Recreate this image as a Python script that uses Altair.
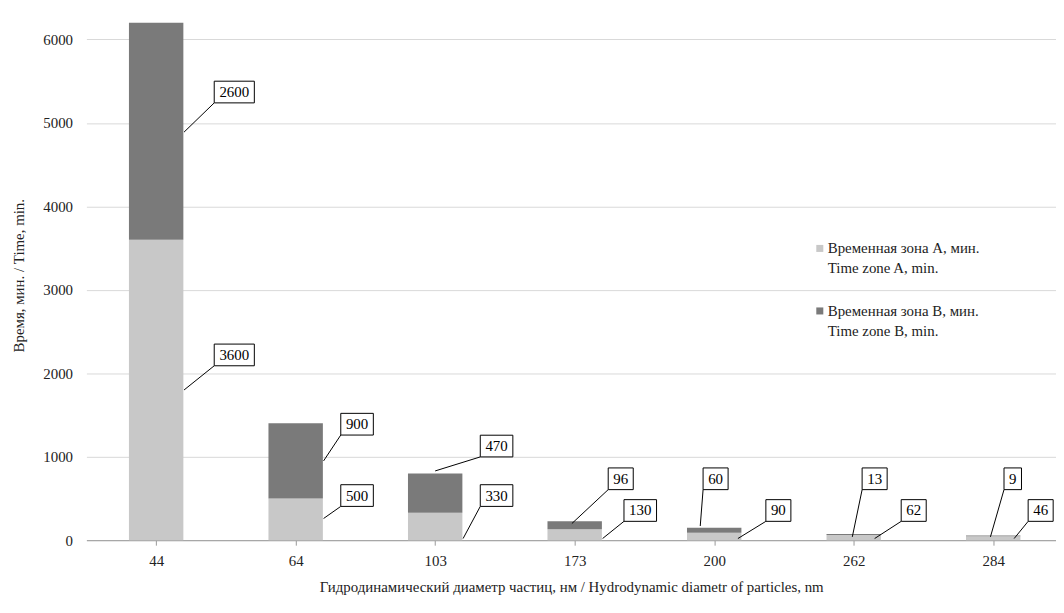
import altair as alt
import pandas as pd

# Данные
diam = ["44", "64", "103", "173", "200", "262", "284"]
zone_a = [3600, 500, 330, 130, 90, 62, 46]
zone_b = [2600, 900, 470, 96, 60, 13, 9]

# выноски: (текст, якорь x, якорь y, бокс x, бокс y)
lab_text = ["2600", "3600", "900", "500", "470", "330", "96", "130", "60", "90", "13", "62", "9", "46"]
anc_x = [0.2, 0.2, 1.2, 1.2, 2.0, 2.2, 2.98, 3.2, 3.9, 4.17, 4.99, 5.15, 5.98, 6.15]
anc_y = [4890, 1800, 950, 260, 830, 20, 200, 20, 170, 20, 40, 20, 40, 20]
box_x = [0.56, 0.56, 1.44, 1.44, 2.44, 2.44, 3.33, 3.47, 4.01, 4.46, 5.15, 5.43, 6.14, 6.34]
box_y = [5370, 2220, 1390, 535, 1128, 535, 736, 356, 736, 356, 736, 356, 736, 356]

bars = pd.DataFrame({
    "i": list(range(7)) * 2,
    "zone": ["A"] * 7 + ["B"] * 7,
    "lo": zone_a + zone_a,
    "hi": zone_a + [a + b for a, b in zip(zone_a, zone_b)],
})
bars.loc[bars.zone == "A", "lo"] = 0
bars["x1"] = bars["i"] - 0.195
bars["x2"] = bars["i"] + 0.195

labs = pd.DataFrame({"t": lab_text, "ax": anc_x, "ay": anc_y, "bx": box_x, "by": box_y})
hw = labs["t"].str.len() * 3.8 + 5
labs["bx1"] = labs["bx"] - hw / 140.5
labs["bx2"] = labs["bx"] + hw / 140.5
labs["by1"] = labs["by"] - 130
labs["by2"] = labs["by"] + 130

font = "Liberation Serif"
xs = alt.Scale(domain=[-0.5, 6.45], nice=False, zero=False)
ys = alt.Scale(domain=[0, 6350], nice=False)
lblexpr = "[" + ",".join("'%s'" % d for d in diam) + "][datum.value]"

bar = alt.Chart(bars).mark_rect().encode(
    x=alt.X("x1:Q", scale=xs, axis=alt.Axis(values=list(range(7)), labelExpr=lblexpr, grid=False,
            title="Гидродинамический диаметр частиц, нм / Hydrodynamic diametr of particles, nm",
            domainColor="#999", tickColor="#999", labelFontSize=15, titleFontSize=15,
            labelFont=font, titleFont=font,
            titleFontWeight="normal", labelColor="#222", titleColor="#222", labelPadding=8,
            titlePadding=12)),
    x2="x2:Q",
    y=alt.Y("lo:Q", scale=ys, axis=alt.Axis(values=[0, 1000, 2000, 3000, 4000, 5000, 6000],
            format="d", title="Время, мин. / Time, min.", gridColor="#d9d9d9", domain=False, ticks=False,
            labelFontSize=15, titleFontSize=15, titleFontWeight="normal",
            labelFont=font, titleFont=font,
            labelColor="#222", titleColor="#222", labelPadding=14, titlePadding=16)),
    y2="hi:Q",
    color=alt.Color("zone:N", scale=alt.Scale(domain=["A", "B"], range=["#c8c8c8", "#7a7a7a"]), legend=None),
)

lines = alt.Chart(labs).mark_rule(color="#000", strokeWidth=1).encode(
    x=alt.X("ax:Q", scale=xs), y=alt.Y("ay:Q", scale=ys), x2="bx1:Q", y2="by1:Q")
boxes = alt.Chart(labs).mark_rect(fill="white", stroke="black", strokeWidth=1).encode(
    x=alt.X("bx1:Q", scale=xs), x2="bx2:Q", y=alt.Y("by1:Q", scale=ys), y2="by2:Q")
texts = alt.Chart(labs).mark_text(font=font, fontSize=15, color="#000").encode(
    x=alt.X("bx:Q", scale=xs), y=alt.Y("by:Q", scale=ys), text="t:N")

leg = pd.DataFrame({
    "c": ["#c8c8c8", "#7a7a7a"],
    "y": [240, 303],
    "l1": ["Временная зона A, мин.", "Временная зона B, мин."],
    "l2": ["Time zone A, min.", "Time zone B, min."],
})
leg_sq = alt.Chart(leg).mark_square(size=50, opacity=1).encode(
    x=alt.value(739), y=alt.Y("y:Q", scale=None), color=alt.Color("c:N", scale=None))
leg_t1 = alt.Chart(leg).mark_text(font=font, fontSize=15, align="left", color="#222").encode(
    x=alt.value(747), y=alt.Y("y:Q", scale=None), text="l1:N")
leg_t2 = alt.Chart(leg).transform_calculate(y2="datum.y + 20").mark_text(
    font=font, fontSize=15, align="left", color="#222").encode(
    x=alt.value(747), y=alt.Y("y2:Q", scale=None), text="l2:N")

chart = alt.layer(bar, lines, boxes, texts, leg_sq, leg_t1, leg_t2).properties(
    width=977, height=534, autosize="none",
    padding={"left": 79, "top": 0, "right": 0, "bottom": 60},
).configure_view(stroke=None)

chart.save("out.html", embed_options={"renderer": "svg", "actions": False})
